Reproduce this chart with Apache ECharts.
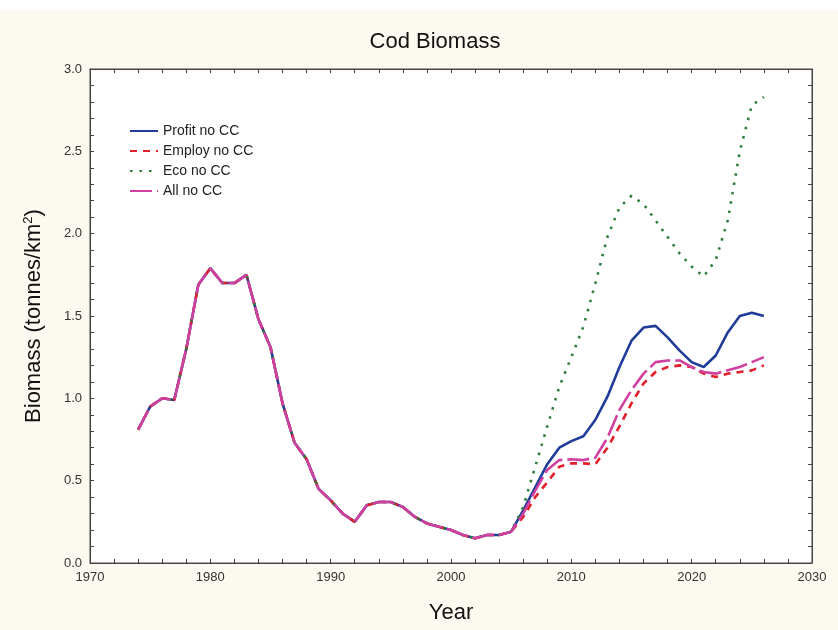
<!DOCTYPE html>
<html><head><meta charset="utf-8">
<script src="https://cdn.jsdelivr.net/npm/echarts@6/dist/echarts.min.js"></script>
<style>html,body{margin:0;padding:0;background:#fff}#c{width:838px;height:630px}</style>
</head><body><div id="c"></div>
<script>
const histYears = [1974,1975,1976,1977,1978,1979,1980,1981,1982,1983,1984,1985,1986,1987,1988,1989,1990,1991,1992,1993,1994,1995,1996,1997,1998,1999,2000,2001,2002,2003,2004,2005];
const histValues = [0.81,0.95,1.00,0.99,1.30,1.69,1.79,1.70,1.70,1.75,1.48,1.31,0.97,0.73,0.63,0.45,0.38,0.30,0.25,0.35,0.37,0.37,0.34,0.28,0.24,0.22,0.20,0.17,0.15,0.17,0.17,0.19];
const futureYears = [2006,2007,2008,2009,2010,2011,2012,2013,2014,2015,2016,2017,2018,2019,2020,2021,2022,2023,2024,2025,2026];
const profitNoCC = [0.32,0.46,0.60,0.70,0.74,0.77,0.87,1.01,1.19,1.35,1.43,1.44,1.37,1.29,1.22,1.19,1.26,1.40,1.50,1.52,1.50];
const employNoCC = [0.28,0.40,0.49,0.585,0.605,0.605,0.60,0.70,0.83,0.97,1.09,1.16,1.19,1.20,1.19,1.15,1.13,1.15,1.16,1.17,1.20];
const ecoNoCC = [0.34,0.585,0.83,1.07,1.25,1.435,1.70,1.98,2.16,2.23,2.18,2.08,1.98,1.88,1.80,1.74,1.84,2.08,2.50,2.78,2.83];
const allNoCC = [0.30,0.44,0.565,0.625,0.63,0.625,0.64,0.76,0.93,1.05,1.15,1.22,1.23,1.23,1.19,1.16,1.15,1.17,1.19,1.22,1.25];
const seriesNames = ['Profit no CC','Employ no CC','Eco no CC','All no CC'];
const xTicks = [1970,1980,1990,2000,2010,2020,2030];

function build(future){
  const d = histYears.map((y,i)=>[y,histValues[i]]);
  futureYears.forEach((y,i)=>d.push([y,future[i]]));
  return d;
}
const chart = echarts.init(document.getElementById('c'));
const axisCol = '#444';
const font = 'Liberation Sans, Arial, sans-serif';
const xBase = {type:'value',min:xTicks[0],max:xTicks[xTicks.length-1],interval:10,
  axisLine:{show:true,onZero:false,lineStyle:{color:axisCol,width:1}},
  axisTick:{show:true,inside:true,length:4,lineStyle:{color:axisCol}},
  minorTick:{show:true,splitNumber:5,length:4,lineStyle:{color:axisCol}},
  splitLine:{show:false},minorSplitLine:{show:false}};
const yBase = {type:'value',min:0,max:3,interval:0.5,
  axisLine:{show:true,onZero:false,lineStyle:{color:axisCol,width:1}},
  axisTick:{show:true,inside:true,length:4,lineStyle:{color:axisCol}},
  minorTick:{show:true,splitNumber:5,length:4,lineStyle:{color:axisCol}},
  splitLine:{show:false},minorSplitLine:{show:false}};
chart.setOption({
  backgroundColor:'#fcf9f0',
  animation:false,
  graphic:[{type:'rect',left:0,top:0,shape:{width:838,height:10},style:{fill:'#fff'}}],
  title:{text:'Cod Biomass',left:430,top:26,textAlign:'center',
    textStyle:{fontFamily:font,fontSize:22,fontWeight:'normal',color:'#111'}},
  grid:{left:90,right:26,top:69,bottom:67,show:true,backgroundColor:'#fff',borderColor:axisCol,borderWidth:1},
  legend:{orient:'vertical',left:124,top:119,itemWidth:28,itemHeight:12,itemGap:6,
    itemStyle:{opacity:0},
    data:seriesNames,textStyle:{fontFamily:font,fontSize:14,color:'#222'}},
  xAxis:[Object.assign({},xBase,{position:'bottom',
      name:'Year',nameLocation:'middle',nameGap:39,
      nameTextStyle:{fontFamily:font,fontSize:22,color:'#111'},
      axisLabel:{fontFamily:font,fontSize:13,color:'#333',margin:8,formatter:v=>String(v)}}),
    Object.assign({},xBase,{position:'top',axisLabel:{show:false}})],
  yAxis:[Object.assign({},yBase,{position:'left',
      name:'Biomass (tonnes/km{sup|2})',nameLocation:'middle',nameGap:45,
      nameTextStyle:{fontFamily:font,fontSize:22,color:'#111',rich:{sup:{fontFamily:font,fontSize:13,color:'#111',verticalAlign:'top',padding:[0,0,10,0]}}},
      axisLabel:{fontFamily:font,fontSize:13,color:'#333',margin:8,formatter:v=>v.toFixed(1)}}),
    Object.assign({},yBase,{position:'right',axisLabel:{show:false}})],
  series:[
    {name:seriesNames[0],type:'line',symbol:'none',data:build(profitNoCC),z:2,
      lineStyle:{color:'#1f3c98',width:2.6},itemStyle:{color:'#1f3c98'}},
    {name:seriesNames[1],type:'line',symbol:'none',data:build(employNoCC),z:3,
      lineStyle:{color:'#e0202a',width:2.6,type:[7,6]},itemStyle:{color:'#e0202a'}},
    {name:seriesNames[2],type:'line',symbol:'none',data:build(ecoNoCC),z:4,
      lineStyle:{color:'#2e7d3c',width:2.6,type:[2.5,7]},itemStyle:{color:'#2e7d3c'}},
    {name:seriesNames[3],type:'line',symbol:'none',data:build(allNoCC),z:5,
      lineStyle:{color:'#d040a0',width:2.6,type:[22,5]},itemStyle:{color:'#d040a0'}}
  ]
});
</script></body></html>
